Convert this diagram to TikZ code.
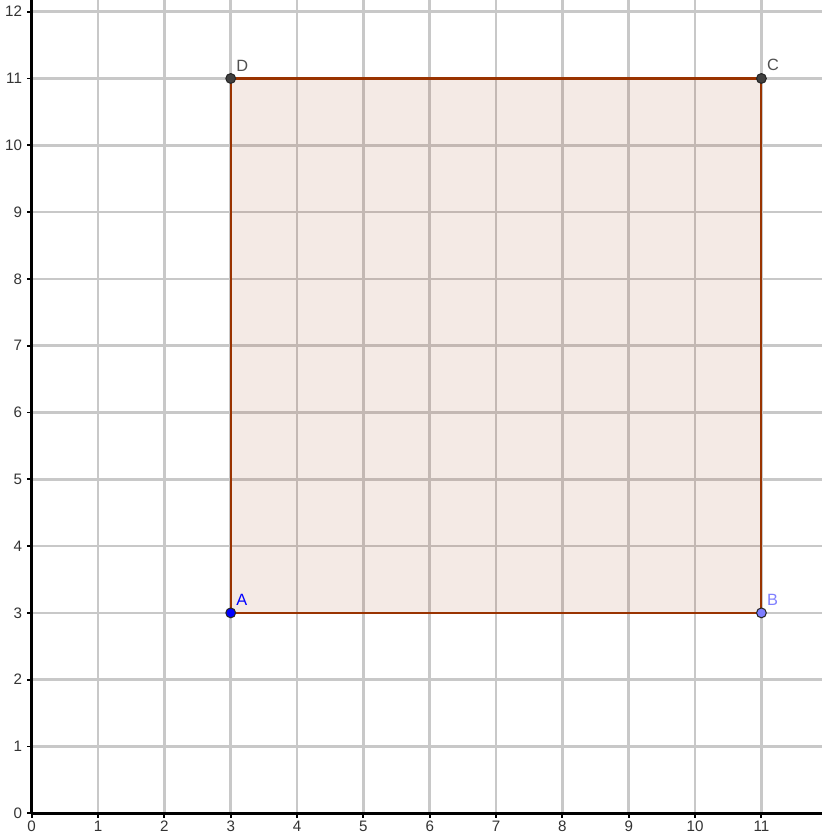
\documentclass[tikz,border=0pt]{standalone}
\usepackage{fontspec}
\setmainfont{Liberation Sans}
\definecolor{gridgray}{RGB}{200,200,200}
\definecolor{edgebrown}{RGB}{153,51,0}
\definecolor{ptA}{RGB}{0,0,255}
\definecolor{ptB}{RGB}{125,125,255}
\definecolor{ptCD}{RGB}{64,64,64}
\definecolor{lblB}{RGB}{128,128,255}
\definecolor{lblCD}{RGB}{80,80,80}
\begin{document}
\begin{tikzpicture}[x=1cm,y=1.007cm,
  gridline/.style={draw=gridgray,line width=1.1pt},
  axisline/.style={draw=black,line width=1.1pt},
  ticklbl/.style={font=\fontsize{6.5}{7}\selectfont,inner sep=0pt,text=black!80},
  ptdot/.style={circle,draw=black!85,line width=0.45pt,minimum size=4.2pt,inner sep=0pt},
  ptlbl/.style={font=\fontsize{7}{8}\selectfont,inner sep=0pt,anchor=south west,xshift=2.2pt,yshift=3pt}]
\useasboundingbox (-0.478,-0.31) rectangle (11.915,12.175);
\fill[white] (-0.478,-0.31) rectangle (11.915,12.175);
% grid
\foreach \i in {1,...,11} \draw[gridline] (\i,0) -- (\i,12.175);
\foreach \j in {1,...,12} \draw[gridline] (0,\j) -- (11.915,\j);
% square
\coordinate (A) at (3,3);
\coordinate (B) at (11,3);
\coordinate (C) at (11,11);
\coordinate (D) at (3,11);
\fill[edgebrown,fill opacity=0.1] (A) -- (B) -- (C) -- (D) -- cycle;
\draw[edgebrown,line width=0.9pt] (A) -- (B) -- (C) -- (D) -- cycle;
% axes
\draw[axisline] (0,0) -- (11.915,0);
\draw[axisline] (0,0) -- (0,12.175);
\foreach \i in {0,...,11} {
  \draw[black,line width=0.8pt] (\i,0) -- (\i,-0.07);
  \node[ticklbl,anchor=north] (xl\i) at (\i,-0.11) {\i};
}
\foreach \j in {0,...,12} {
  \draw[black,line width=0.8pt] (0,\j) -- (-0.07,\j);
  \node[ticklbl,anchor=east] (yl\j) at (-0.14,\j) {\j};
}
% points
\node[ptdot,fill=ptA] (pA) at (A) {};
\node[ptdot,fill=ptB] (pB) at (B) {};
\node[ptdot,fill=ptCD] (pC) at (C) {};
\node[ptdot,fill=ptCD] (pD) at (D) {};
\node[ptlbl,text=ptA] (lA) at (A) {A};
\node[ptlbl,text=lblB] (lB) at (B) {B};
\node[ptlbl,text=lblCD] (lC) at (C) {C};
\node[ptlbl,text=lblCD] (lD) at (D) {D};
\end{tikzpicture}
\end{document}
